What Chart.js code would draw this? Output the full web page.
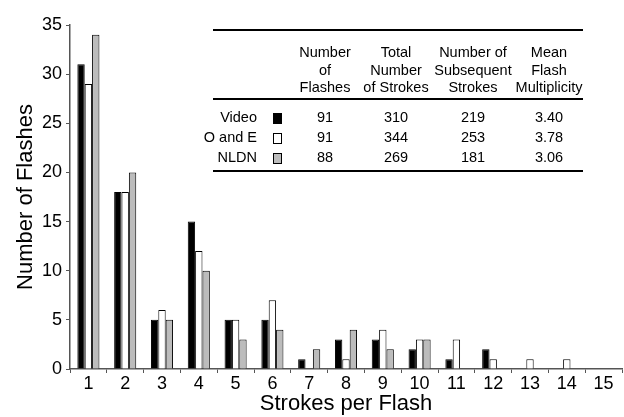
<!DOCTYPE html>
<html lang="en">
<head>
    <meta charset="UTF-8">
    <title>Strokes per Flash</title>
    <script src="https://cdn.jsdelivr.net/npm/chart.js"></script>
    <style>
        body { margin: 0; background: #fff; }
        .wrap { position: relative; width: 624px; height: 417px; font-family: "Liberation Sans", Arial, sans-serif; }
        canvas { display: block; }
        .tbl { position: absolute; left: 0; top: 0; width: 624px; height: 417px; pointer-events: none; color: #000; font-size: 14.5px; line-height: 17.5px; }
        .rule { position: absolute; left: 213px; width: 370px; height: 2px; background: #000; }
        .cell { position: absolute; transform: translateX(-50%); text-align: center; white-space: nowrap; }
        .lbl { position: absolute; text-align: right; white-space: nowrap; }
        .sw { position: absolute; width: 9px; height: 11px; border: 1.5px solid #000; box-sizing: border-box; }
    </style>
</head>
<body>
<div class="wrap">
    <canvas id="chart" width="624" height="417"></canvas>
    <div id="table" class="tbl"></div>
</div>
<script>
    // datos
    const categorias = ['1','2','3','4','5','6','7','8','9','10','11','12','13','14','15'];
    const video = [31, 18, 5, 15, 5, 5, 1, 3, 3, 2, 1, 2, 0, 0, 0];
    const oyE   = [29, 18, 6, 12, 5, 7, 0, 1, 4, 3, 3, 1, 1, 1, 0];
    const nldn  = [34, 20, 5, 10, 3, 4, 2, 4, 2, 3, 0, 0, 0, 0, 0];

    const series = ['Video', 'O and E', 'NLDN'];
    const colores = ['#000000', '#ffffff', '#bcbcbc'];

    // tabla
    const encabezados = [
        ['Number', 'of', 'Flashes'],
        ['Total', 'Number', 'of Strokes'],
        ['Number of', 'Subsequent', 'Strokes'],
        ['Mean', 'Flash', 'Multiplicity']
    ];
    const numFlashes = ['91', '91', '88'];
    const totalStrokes = ['310', '344', '269'];
    const subsequent = ['219', '253', '181'];
    const multiplicidad = ['3.40', '3.78', '3.06'];

    // armar la tabla encima del grafico
    const tabla = document.getElementById('table');
    const colX = [325, 396, 473, 549];
    let html = '';
    html += '<div class="rule" style="top:29px"></div>';
    html += '<div class="rule" style="top:98px"></div>';
    html += '<div class="rule" style="top:170px"></div>';
    encabezados.forEach((col, i) => {
        col.forEach((txt, j) => {
            html += `<div class="cell" style="left:${colX[i]}px;top:${53 + j * 17.5 - 9}px">${txt}</div>`;
        });
    });
    const columnas = [numFlashes, totalStrokes, subsequent, multiplicidad];
    series.forEach((s, r) => {
        const y = 118 + r * 20 - 9;
        html += `<div class="lbl" style="right:${624 - 257}px;top:${y}px">${s}</div>`;
        html += `<div class="sw" style="left:273px;top:${y + 4}px;background:${colores[r]}"></div>`;
        columnas.forEach((col, i) => {
            html += `<div class="cell" style="left:${colX[i]}px;top:${y}px">${col[r]}</div>`;
        });
    });
    tabla.innerHTML = html;

    const ctx = document.getElementById('chart').getContext('2d');
    new Chart(ctx, {
        type: 'bar',
        data: {
            labels: categorias,
            datasets: [video, oyE, nldn].map((d, i) => ({
                label: series[i],
                data: d,
                backgroundColor: colores[i],
                borderColor: '#000',
                borderWidth: 1,
                categoryPercentage: 0.6,
                barPercentage: 1.0
            }))
        },
        options: {
            responsive: false,
            animation: false,
            layout: { padding: { top: 25, right: 2, left: 0, bottom: 0 } },
            plugins: {
                legend: { display: false },
                tooltip: { enabled: false }
            },
            scales: {
                x: {
                    grid: { drawOnChartArea: false, tickLength: 4, color: '#555', offset: true },
                    border: { color: '#555', width: 1.5 },
                    ticks: { color: '#000', font: { family: 'Liberation Sans', size: 18 }, padding: 0 },
                    title: { display: true, text: 'Strokes per Flash', color: '#000', font: { family: 'Liberation Sans', size: 22 }, padding: { top: 2, bottom: 0 } },
                    afterFit: (scale) => { scale.height = 48; }
                },
                y: {
                    min: 0,
                    max: 35,
                    ticks: { stepSize: 5, color: '#000', font: { family: 'Liberation Sans', size: 18 }, padding: 4 },
                    grid: { drawOnChartArea: false, tickLength: 4, color: '#555' },
                    border: { color: '#555', width: 1.5 },
                    title: { display: true, text: 'Number of Flashes', color: '#000', font: { family: 'Liberation Sans', size: 22 }, padding: { top: 13, bottom: 0 } },
                    afterFit: (scale) => { scale.width = 70; }
                }
            }
        }
    });
</script>
</body>
</html>
